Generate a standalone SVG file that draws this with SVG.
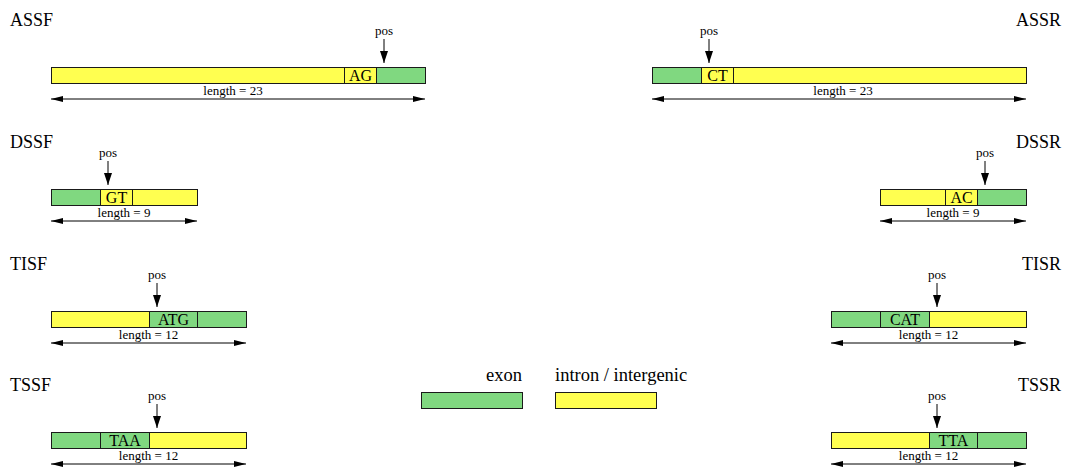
<svg xmlns="http://www.w3.org/2000/svg" width="1071" height="468" viewBox="0 0 1071 468">
  <defs>
    <marker id="head" viewBox="0 0 12 6" markerWidth="12" markerHeight="6" markerUnits="userSpaceOnUse" refX="12" refY="3" orient="auto-start-reverse">
      <path d="M0,0 L12,3 L0,6 z" fill="#000"/>
    </marker>
    <marker id="posHead" viewBox="0 0 12 8" markerWidth="12" markerHeight="8" markerUnits="userSpaceOnUse" refX="12" refY="4" orient="auto">
      <path d="M0,0 L12,4 L0,8 z" fill="#000"/>
    </marker>
  </defs>
  <style>
    text { font-family: "Liberation Serif", "Times New Roman", serif; fill: #000; }
    .title { font-size: 18px; }
    .small { font-size: 13px; }
    .site { font-size: 16px; }
    .legend { font-size: 18.5px; }
    .ex { fill: #80d880; stroke: #1a1a1a; stroke-width: 1; }
    .in { fill: #ffff50; stroke: #1a1a1a; stroke-width: 1; }
    .len { stroke: #000; stroke-width: 1; fill: none; marker-start: url(#head); marker-end: url(#head); }
    .pos { stroke: #000; stroke-width: 1; fill: none; marker-end: url(#posHead); }
  </style>
  <rect width="1071" height="468" fill="#fff"/>

  <!-- acceptor splice site, forward -->
  <g id="ASSF">
    <text class="title" x="10" y="26">ASSF</text>
    <rect class="in" x="51.5" y="67.5" width="293" height="16"/>
    <rect class="in" x="344.5" y="67.5" width="32" height="16"/>
    <rect class="ex" x="376.5" y="67.5" width="49" height="16"/>
    <text class="site" x="360.5" y="81" text-anchor="middle">AG</text>
    <text class="small" x="384" y="35" text-anchor="middle">pos</text>
    <text class="small" x="233" y="95" text-anchor="middle">length = 23</text>
  </g>

  <!-- acceptor splice site, reverse -->
  <g id="ASSR">
    <text class="title" x="1061" y="26" text-anchor="end">ASSR</text>
    <rect class="ex" x="652.5" y="67.5" width="49" height="16"/>
    <rect class="in" x="701.5" y="67.5" width="32" height="16"/>
    <rect class="in" x="733.5" y="67.5" width="293" height="16"/>
    <text class="site" x="717.5" y="81" text-anchor="middle">CT</text>
    <text class="small" x="709" y="35" text-anchor="middle">pos</text>
    <text class="small" x="843" y="95" text-anchor="middle">length = 23</text>
  </g>

  <!-- donor splice site, forward -->
  <g id="DSSF">
    <text class="title" x="10" y="148">DSSF</text>
    <rect class="ex" x="51.5" y="189.5" width="49" height="16"/>
    <rect class="in" x="100.5" y="189.5" width="32" height="16"/>
    <rect class="in" x="132.5" y="189.5" width="65" height="16"/>
    <text class="site" x="116.5" y="203" text-anchor="middle">GT</text>
    <text class="small" x="108" y="157" text-anchor="middle">pos</text>
    <text class="small" x="124" y="217" text-anchor="middle">length = 9</text>
  </g>

  <!-- donor splice site, reverse -->
  <g id="DSSR">
    <text class="title" x="1061" y="148" text-anchor="end">DSSR</text>
    <rect class="in" x="880.5" y="189.5" width="65" height="16"/>
    <rect class="in" x="945.5" y="189.5" width="32" height="16"/>
    <rect class="ex" x="977.5" y="189.5" width="49" height="16"/>
    <text class="site" x="961.5" y="203" text-anchor="middle">AC</text>
    <text class="small" x="985" y="157" text-anchor="middle">pos</text>
    <text class="small" x="953" y="217" text-anchor="middle">length = 9</text>
  </g>

  <!-- translation initiation site, forward -->
  <g id="TISF">
    <text class="title" x="10" y="270">TISF</text>
    <rect class="in" x="51.5" y="311.5" width="98" height="16"/>
    <rect class="ex" x="149.5" y="311.5" width="48" height="16"/>
    <rect class="ex" x="197.5" y="311.5" width="49" height="16"/>
    <text class="site" x="173.5" y="325" text-anchor="middle">ATG</text>
    <text class="small" x="157" y="279" text-anchor="middle">pos</text>
    <text class="small" x="148.5" y="339" text-anchor="middle">length = 12</text>
  </g>

  <!-- translation initiation site, reverse -->
  <g id="TISR">
    <text class="title" x="1061" y="270" text-anchor="end">TISR</text>
    <rect class="ex" x="831.5" y="311.5" width="49" height="16"/>
    <rect class="ex" x="880.5" y="311.5" width="49" height="16"/>
    <rect class="in" x="929.5" y="311.5" width="97" height="16"/>
    <text class="site" x="905" y="325" text-anchor="middle">CAT</text>
    <text class="small" x="937" y="279" text-anchor="middle">pos</text>
    <text class="small" x="928.5" y="339" text-anchor="middle">length = 12</text>
  </g>

  <!-- translation stop site, forward -->
  <g id="TSSF">
    <text class="title" x="10" y="391">TSSF</text>
    <rect class="ex" x="51.5" y="432.5" width="49" height="16"/>
    <rect class="ex" x="100.5" y="432.5" width="49" height="16"/>
    <rect class="in" x="149.5" y="432.5" width="97" height="16"/>
    <text class="site" x="125" y="446" text-anchor="middle">TAA</text>
    <text class="small" x="157" y="400" text-anchor="middle">pos</text>
    <text class="small" x="148.5" y="460" text-anchor="middle">length = 12</text>
  </g>

  <!-- translation stop site, reverse -->
  <g id="TSSR">
    <text class="title" x="1061" y="391" text-anchor="end">TSSR</text>
    <rect class="in" x="831.5" y="432.5" width="98" height="16"/>
    <rect class="ex" x="929.5" y="432.5" width="48" height="16"/>
    <rect class="ex" x="977.5" y="432.5" width="49" height="16"/>
    <text class="site" x="953.5" y="446" text-anchor="middle">TTA</text>
    <text class="small" x="937" y="400" text-anchor="middle">pos</text>
    <text class="small" x="928.5" y="460" text-anchor="middle">length = 12</text>
  </g>

  <!-- legend -->
  <g id="legend-exon">
    <text class="legend" x="522" y="381" text-anchor="end">exon</text>
    <rect class="ex" x="421.5" y="392.5" width="101" height="16"/>
  </g>
  <g id="legend-intron">
    <text class="legend" x="555" y="381">intron / intergenic</text>
    <rect class="in" x="555.5" y="392.5" width="101" height="16"/>
  </g>

  <!-- position pointers and length spans -->
  <g id="connectors">
    <line class="pos" x1="384" y1="39" x2="384" y2="63"/>
    <line class="pos" x1="709" y1="39" x2="709" y2="63"/>
    <line class="pos" x1="108" y1="161" x2="108" y2="185"/>
    <line class="pos" x1="985" y1="161" x2="985" y2="185"/>
    <line class="pos" x1="157" y1="283" x2="157" y2="307"/>
    <line class="pos" x1="937" y1="283" x2="937" y2="307"/>
    <line class="pos" x1="157" y1="404" x2="157" y2="428"/>
    <line class="pos" x1="937" y1="404" x2="937" y2="428"/>

    <line class="len" x1="51" y1="99" x2="425" y2="99"/>
    <line class="len" x1="652" y1="99" x2="1026" y2="99"/>
    <line class="len" x1="51" y1="221" x2="197" y2="221"/>
    <line class="len" x1="880" y1="221" x2="1026" y2="221"/>
    <line class="len" x1="51" y1="343" x2="246" y2="343"/>
    <line class="len" x1="831" y1="343" x2="1026" y2="343"/>
    <line class="len" x1="51" y1="464" x2="246" y2="464"/>
    <line class="len" x1="831" y1="464" x2="1026" y2="464"/>
  </g>
</svg>
